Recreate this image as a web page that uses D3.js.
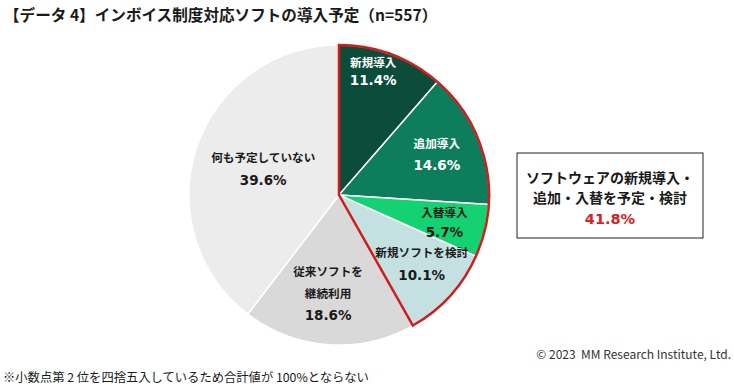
<!DOCTYPE html>
<html>
<head>
<meta charset="utf-8">
<script src="https://d3js.org/d3.v7.min.js"></script>
<style>
  body { margin: 0; background: #fff; }
  text { font-family: "Noto Sans CJK JP", "Noto Sans", sans-serif; }
  .num { font-family: "DejaVu Sans", Verdana, sans-serif; }
</style>
</head>
<body>
<div id="chart"></div>
<script>
// data
const categories = ["新規導入", "追加導入", "入替導入", "新規ソフトを検討", "従来ソフトを継続利用", "何も予定していない"];
const values = [11.4, 14.6, 5.7, 10.1, 18.6, 39.6];
const labelLines = [["新規導入"], ["追加導入"], ["入替導入"], ["新規ソフトを検討"], ["従来ソフトを", "継続利用"], ["何も予定していない"]];
const sliceColors = ["#0b4d3a", "#0e7d5c", "#14d172", "#c4e0e0", "#d9d9d9", "#ececec"];
const textColors = ["#fff", "#fff", "#1a1a1a", "#1a1a1a", "#1a1a1a", "#1a1a1a"];
const titleText = "【データ 4】インボイス制度対応ソフトの導入予定（n=557）";
const boxLines = ["ソフトウェアの新規導入・", "追加・入替を予定・検討"];
const boxValue = "41.8%";
const copyright = "© 2023  MM Research Institute, Ltd.";
const footnote = "※小数点第 2 位を四捨五入しているため合計値が 100%とならない";

const W = 734, H = 388;
const cx = 339, cy = 195, R = 150;

const svg = d3.select("#chart").append("svg")
  .attr("width", W).attr("height", H);

svg.append("text")
  .attr("x", 4).attr("y", 21)
  .attr("font-size", 15.6).attr("font-weight", "bold").attr("fill", "#1a1a1a")
  .text(titleText);

const data = categories.map((c, i) => ({ name: c, value: values[i], i: i }));
const pie = d3.pie().value(d => d.value).sort(null);
const arcs = pie(data);
const arc = d3.arc().innerRadius(0).outerRadius(R);

const g = svg.append("g").attr("transform", `translate(${cx},${cy})`);

g.selectAll("path.slice")
  .data(arcs)
  .enter()
  .append("path")
  .attr("class", "slice")
  .attr("d", arc)
  .attr("fill", d => sliceColors[d.data.i])
  .attr("stroke", "#fff")
  .attr("stroke-width", 1.5);

// red outline around the first four slices
const planned = d3.sum(values.slice(0, 4));
const total = d3.sum(values);
g.append("path")
  .attr("d", d3.arc().innerRadius(0).outerRadius(R)({ startAngle: 0, endAngle: 2 * Math.PI * planned / total }))
  .attr("fill", "none")
  .attr("stroke", "#d01c1c")
  .attr("stroke-width", 2.5)
  .attr("stroke-linejoin", "miter");

// labels: radius and angle nudges per slice
const labelR = [128, 106, 109, 108, 99, 80];
const angNudge = [-5, 0, 1, -2.3, 2.4, 0];
const lineH = [18, 22, 20, 23, 22, 23];

arcs.forEach((a, k) => {
  const ang = (a.startAngle + a.endAngle) / 2 + angNudge[k] * Math.PI / 180;
  const x = Math.sin(ang) * labelR[k];
  const y = -Math.cos(ang) * labelR[k];
  const lines = labelLines[k].concat([d3.format(".1f")(a.data.value) + "%"]);
  const n = lines.length;
  lines.forEach((ln, j) => {
    const isNum = j === n - 1;
    g.append("text")
      .attr("class", isNum ? "num" : null)
      .attr("x", x)
      .attr("y", y + (j - (n - 1) / 2) * lineH[k] + 4.5)
      .attr("text-anchor", "middle")
      .attr("font-size", isNum ? 13.5 : 11.6)
      .attr("font-weight", "bold")
      .attr("fill", textColors[k])
      .text(ln);
  });
});

// callout box
const bx = 517, by = 153, bw = 186, bh = 85;
svg.append("rect")
  .attr("x", bx).attr("y", by).attr("width", bw).attr("height", bh)
  .attr("fill", "#fff").attr("stroke", "#222").attr("stroke-width", 1);
boxLines.forEach((ln, j) => {
  svg.append("text")
    .attr("x", bx + bw / 2).attr("y", by + 30 + j * 20)
    .attr("text-anchor", "middle")
    .attr("font-size", 14).attr("font-weight", "bold").attr("fill", "#1a1a1a")
    .text(ln);
});
svg.append("text")
  .attr("class", "num")
  .attr("x", bx + bw / 2).attr("y", by + 71)
  .attr("text-anchor", "middle")
  .attr("font-size", 14.5).attr("font-weight", "bold").attr("fill", "#e02020")
  .text(boxValue);

svg.append("text")
  .attr("x", 731).attr("y", 359)
  .attr("text-anchor", "end")
  .attr("font-size", 12).attr("fill", "#333")
  .style("white-space", "pre")
  .text(copyright);

svg.append("text")
  .attr("x", 3).attr("y", 382)
  .attr("font-size", 12.3).attr("fill", "#1a1a1a")
  .style("white-space", "pre")
  .text(footnote);
</script>
</body>
</html>
